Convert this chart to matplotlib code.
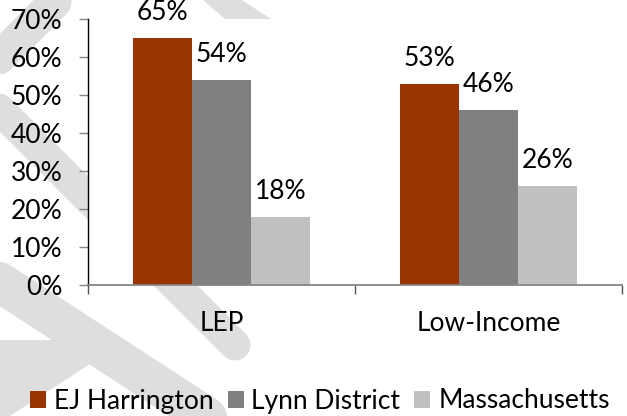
import matplotlib
matplotlib.use("Agg")
import matplotlib.pyplot as plt
from matplotlib.lines import Line2D
from matplotlib.patches import Polygon
import numpy as np

# ---------------------------
# Data
# ---------------------------
categories = ["LEP", "Low-Income"]
series_names = ["EJ Harrington", "Lynn District", "Massachusetts"]
ej_harrington = [0.65, 0.53]
lynn_district = [0.54, 0.46]
massachusetts = [0.18, 0.26]
y_ticks = [0.0, 0.1, 0.2, 0.3, 0.4, 0.5, 0.6, 0.7]
y_tick_labels = ["0%", "10%", "20%", "30%", "40%", "50%", "60%", "70%"]

COLORS = ["#993300", "#808080", "#c0c0c0"]
AXIS_GRAY = "#868686"
WATERMARK = "#dedede"

W, H, DPI = 627, 416, 100
plt.rcParams["font.family"] = ["Lato", "DejaVu Sans"]
FS = 19


def px(x, y):
    # figure pixel (y down) -> figure fraction
    return x / W, 1 - y / H


fig = plt.figure(figsize=(W / DPI, H / DPI), dpi=DPI)

# ---------------------------
# Light "draft" watermark behind the chart
# ---------------------------
def band(p0, p1, width_px):
    (x0, y0), (x1, y1) = px(*p0), px(*p1)
    fig.add_artist(Line2D([x0, x1], [y0, y1], transform=fig.transFigure,
                          color=WATERMARK, lw=width_px * 72 / DPI,
                          solid_capstyle="round", zorder=-1))


def shape(points):
    fig.add_artist(Polygon([px(x, y) for x, y in points], closed=True,
                           transform=fig.transFigure, facecolor=WATERMARK,
                           edgecolor="none", zorder=-1))


band((55, 2), (-40, 97), 33)
band((-40, 70), (235, 345), 31)
band((-30, 263), (330, 497), 40)
shape([(0, 340), (53, 340), (90, 364), (10, 416), (0, 416)])
shape([(203, 0), (242, 0), (271, 19), (225, 19)])

# ---------------------------
# Bars
# ---------------------------
ax = fig.add_axes([88 / W, (H - 285) / H, 534 / W, 266 / H])
ax.set_facecolor("white")

x = np.arange(len(categories))
bw = 0.221
for i, (vals, name) in enumerate(zip([ej_harrington, lynn_district, massachusetts], series_names)):
    pos = x + (i - 1) * bw
    ax.bar(pos, vals, width=bw, color=COLORS[i], label=name, zorder=2)
    for xp, v in zip(pos, vals):
        ax.annotate(f"{v * 100:.0f}%", (xp, v), xytext=(0, 13),
                    textcoords="offset points", ha="center", va="baseline",
                    fontsize=FS, annotation_clip=False)

ax.set_xlim(-0.5, len(categories) - 0.5)
ax.set_ylim(0, 0.7)
ax.set_yticks(y_ticks)
ax.set_yticklabels(y_tick_labels)
ax.set_xticks(x)
ax.set_xticklabels(categories)
ax.set_xticks(np.arange(len(categories) + 1) - 0.5, minor=True)

for s in ["top", "right"]:
    ax.spines[s].set_visible(False)
ax.spines["left"].set_color("black")
ax.spines["left"].set_linewidth(1.0)
ax.spines["bottom"].set_color(AXIS_GRAY)
ax.spines["bottom"].set_linewidth(1.3)

ax.tick_params(axis="y", length=6.5, width=1, color=AXIS_GRAY, pad=12,
               labelsize=FS)
ax.tick_params(axis="x", which="major", length=0, pad=19, labelsize=FS)
ax.tick_params(axis="x", which="minor", length=6.5, width=1, color="#555555")

# ---------------------------
# Legend
# ---------------------------
fig.legend(loc="center", bbox_to_anchor=px(320, 401), ncol=3, frameon=False,
           fontsize=FS, handlelength=0.6, handleheight=0.6,
           handletextpad=0.3, columnspacing=0.53, borderaxespad=0,
           borderpad=0)

fig.savefig("out.png", dpi=DPI, facecolor="white")
